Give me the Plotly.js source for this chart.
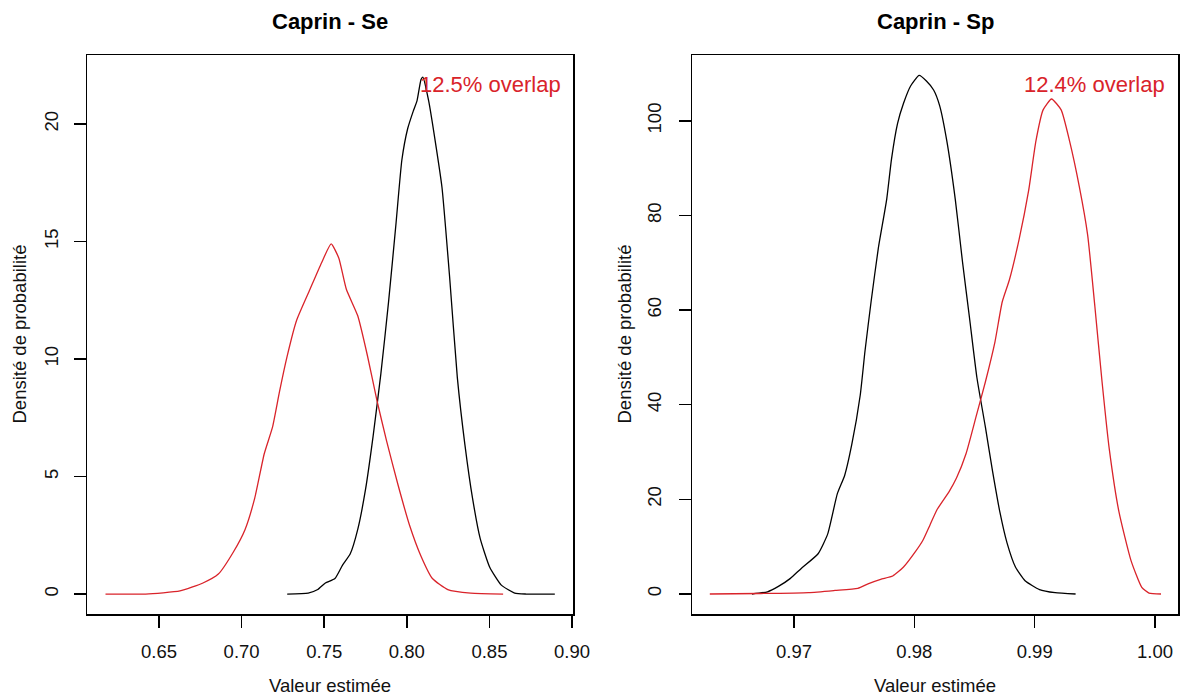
<!DOCTYPE html>
<html>
<head>
<meta charset="utf-8">
<script src="https://cdn.plot.ly/plotly-3.0.1.min.js"></script>
<style>html,body{margin:0;padding:0;background:#fff;}#chart{width:1183px;height:698px;}</style>
</head>
<body>
<div id="chart"></div>
<script>
// ---- Panel 1 : Caprin - Se ----
const seBlackX = [0.7276,0.7403,0.7461,0.7507,0.7565,0.7611,0.7657,0.7703,0.7750,0.7796,0.7843,0.7889,0.7935,0.7970,0.8005,0.8039,0.8062,0.8086,0.8097,0.8132,0.8178,0.8213,0.8259,0.8306,0.8352,0.8398,0.8444,0.8502,0.8572,0.8653,0.8722,0.8896];
const seBlackY = [0,0.04,0.19,0.47,0.66,1.23,1.70,2.75,4.45,6.72,9.38,12.4,15.8,18.47,19.8,20.55,21.0,21.9,22.0,21.0,19.0,17.3,13.5,9.2,6.34,4.07,2.37,1.14,0.38,0.04,0,0];
const seRedX = [0.6176,0.6419,0.6627,0.6766,0.6859,0.6951,0.7021,0.7079,0.7137,0.7187,0.7229,0.7275,0.7333,0.7414,0.7484,0.7542,0.7588,0.7634,0.7703,0.7762,0.7819,0.7877,0.7947,0.8016,0.8086,0.8155,0.8248,0.8387,0.8583];
const seRedY = [0,0,0.13,0.47,0.85,1.8,2.75,4.07,5.97,7.1,8.6,10.1,11.65,12.97,14.1,14.9,14.3,12.97,11.84,10.13,8.24,6.53,4.64,2.94,1.61,0.66,0.19,0.04,0];

// ---- Panel 2 : Caprin - Sp ----
const spBlackX = [0.9665,0.9678,0.9687,0.9697,0.9706,0.9720,0.9728,0.9736,0.9742,0.9748,0.9755,0.9759,0.9764,0.9770,0.9777,0.9781,0.9786,0.9791,0.9797,0.9804,0.9810,0.9816,0.9821,0.9827,0.9834,0.9840,0.9846,0.9852,0.9859,0.9865,0.9871,0.9877,0.9884,0.9892,0.9904,0.9917,0.9934];
const spBlackY = [0,0.47,1.6,3.3,5.4,8.5,12.7,21.2,25,31.6,42,51.4,61.7,73,83.4,91.9,99.4,103.7,107.4,109.6,108.4,106.5,103.2,95.7,83.4,70.2,58,45.7,35.3,25.9,17.4,10.8,5.7,2.8,0.94,0.28,0];
const spRedX = [0.9630,0.9671,0.9712,0.9734,0.9753,0.9762,0.9772,0.9782,0.9791,0.9801,0.9807,0.9813,0.9819,0.9829,0.9835,0.9843,0.9851,0.9859,0.9867,0.9873,0.9879,0.9887,0.9895,0.9901,0.9907,0.9914,0.9922,0.9929,0.9937,0.9944,0.9950,0.9956,0.9962,0.9970,0.9980,0.9989,0.9995,1.0005];
const spRedY = [0,0.1,0.3,0.75,1.2,2.2,3.1,3.8,5.7,9.0,11.3,14.6,17.9,21.7,24.5,29.7,37.2,44.8,53.3,61.7,66.4,74.9,85.3,95.7,102.3,104.6,102.3,95.7,86.2,75.9,60.8,44.8,30.6,17.4,7.1,1.4,0.2,0];

const panelTitles = ["Caprin - Se", "Caprin - Sp"];
const overlapLabels = ["12.5% overlap", "12.4% overlap"];
const xTitle = "Valeur estimée";
const yTitle = "Densité de probabilité";

const RED = '#d9232a';
const FONT = 'Liberation Sans, Arial, sans-serif';
const W = 1183, H = 698;
const px = v => v / W;
const py = v => 1 - v / H;

function line(x, y, color, xa, ya) {
  return {x: x, y: y, type: 'scatter', mode: 'lines', xaxis: xa, yaxis: ya,
    line: {color: color, width: 1.3, shape: 'spline', smoothing: 0.5},
    hoverinfo: 'x+y', showlegend: false};
}

const traces = [
  line(seBlackX, seBlackY, '#000', 'x', 'y'),
  line(seRedX, seRedY, RED, 'x', 'y'),
  line(spBlackX, spBlackY, '#000', 'x2', 'y2'),
  line(spRedX, spRedY, RED, 'x2', 'y2')
];

const axBase = {
  showgrid: false, zeroline: false, showline: true, mirror: true,
  linecolor: '#000', linewidth: 1.5, ticks: 'outside', ticklen: 12,
  tickwidth: 1.5, tickcolor: '#000',
  tickfont: {family: FONT, size: 18.5, color: '#111'}
};

const yDom = [py(614), py(55)];
const layout = {
  width: W, height: H,
  margin: {l: 0, r: 0, t: 0, b: 0},
  paper_bgcolor: '#fff', plot_bgcolor: '#fff',
  showlegend: false,
  xaxis: Object.assign({}, axBase, {domain: [px(87), px(573)], range: [0.6064, 0.9006],
    tickvals: [0.65, 0.70, 0.75, 0.80, 0.85, 0.90], tickformat: '.2f', ticklabelstandoff: 8, anchor: 'y'}),
  yaxis: Object.assign({}, axBase, {domain: yDom, range: [-0.85, 22.94],
    tickvals: [0, 5, 10, 15, 20], tickangle: -90, ticklabelstandoff: 8, anchor: 'x'}),
  xaxis2: Object.assign({}, axBase, {domain: [px(692), px(1178)], range: [0.96152, 1.00191],
    tickvals: [0.97, 0.98, 0.99, 1.00], tickformat: '.2f', ticklabelstandoff: 8, anchor: 'y2'}),
  yaxis2: Object.assign({}, axBase, {domain: yDom, range: [-4.23, 113.9],
    tickvals: [0, 20, 40, 60, 80, 100], tickangle: -90, ticklabelstandoff: 10, anchor: 'x2'}),
  annotations: [
    {text: '<b>' + panelTitles[0] + '</b>', x: px(330), y: py(21), xref: 'paper', yref: 'paper', showarrow: false, xanchor: 'center', yanchor: 'middle', font: {family: FONT, size: 22, color: '#000'}},
    {text: '<b>' + panelTitles[1] + '</b>', x: px(935), y: py(21), xref: 'paper', yref: 'paper', showarrow: false, xanchor: 'center', yanchor: 'middle', font: {family: FONT, size: 22, color: '#000'}},
    {text: xTitle, x: px(330), y: py(685), xref: 'paper', yref: 'paper', showarrow: false, xanchor: 'center', yanchor: 'middle', font: {family: FONT, size: 18.5, color: '#111'}},
    {text: xTitle, x: px(935), y: py(685), xref: 'paper', yref: 'paper', showarrow: false, xanchor: 'center', yanchor: 'middle', font: {family: FONT, size: 18.5, color: '#111'}},
    {text: yTitle, x: px(19), y: py(334.5), xref: 'paper', yref: 'paper', showarrow: false, textangle: -90, xanchor: 'center', yanchor: 'middle', font: {family: FONT, size: 18.5, color: '#111'}},
    {text: yTitle, x: px(624), y: py(334.5), xref: 'paper', yref: 'paper', showarrow: false, textangle: -90, xanchor: 'center', yanchor: 'middle', font: {family: FONT, size: 18.5, color: '#111'}},
    {text: overlapLabels[0], x: px(563), y: py(85), xref: 'paper', yref: 'paper', showarrow: false, xanchor: 'right', yanchor: 'middle', font: {family: FONT, size: 22, color: RED}},
    {text: overlapLabels[1], x: px(1167), y: py(85), xref: 'paper', yref: 'paper', showarrow: false, xanchor: 'right', yanchor: 'middle', font: {family: FONT, size: 22, color: RED}}
  ]
};

Plotly.newPlot('chart', traces, layout, {staticPlot: true, displayModeBar: false});
</script>
</body>
</html>
